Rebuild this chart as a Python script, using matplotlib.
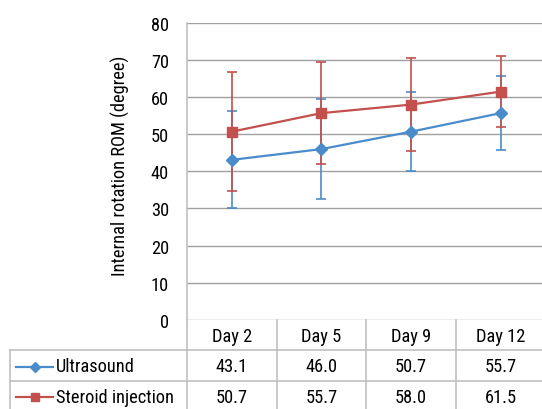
import matplotlib
matplotlib.use("Agg")
import matplotlib.pyplot as plt
from matplotlib.transforms import blended_transform_factory
from matplotlib.lines import Line2D

plt.rcParams['font.family'] = ['Roboto Condensed', 'Archivo Narrow', 'DejaVu Sans']

categories = ["Day 2", "Day 5", "Day 9", "Day 12"]
series_names = ["Ultrasound", "Steroid injection"]
ultrasound = [43.1, 46.0, 50.7, 55.7]
steroid = [50.7, 55.7, 58.0, 61.5]
ultrasound_sd = [13.1, 13.5, 10.6, 9.9]
steroid_sd = [16.1, 13.7, 12.6, 9.6]
y_ticks = [0, 10, 20, 30, 40, 50, 60, 70, 80]
y_label = "Internal rotation ROM (degree)"

blue = "#4A8CCB"
red = "#C4504D"
grid_c = "#A0A0A0"
border_c = "#C0C0C0"
W, H = 542, 410
fs = 13.2

fig = plt.figure(figsize=(W / 100, H / 100), dpi=100)
ax_left, ax_right, ax_top, ax_bot = 187, 545.5, 24, 320.7
ax = fig.add_axes([ax_left / W, 1 - ax_bot / H, (ax_right - ax_left) / W, (ax_bot - ax_top) / H])

x = list(range(len(categories)))
ax.errorbar(x, ultrasound, yerr=ultrasound_sd, fmt='none', ecolor=blue, elinewidth=1.2,
            capsize=3.5, capthick=1.2, zorder=3)
ax.errorbar(x, steroid, yerr=steroid_sd, fmt='none', ecolor=red, elinewidth=1.2,
            capsize=3.5, capthick=1.2, zorder=4)
ax.plot(x, ultrasound, color=blue, lw=1.6, marker='D', ms=6.5, zorder=5)
ax.plot(x, steroid, color=red, lw=1.6, marker='s', ms=6.5, zorder=6)

ax.set_xlim(-0.5, len(categories) - 0.5)
ax.set_ylim(0, 80)
ax.set_yticks(y_ticks)
ax.set_xticks([])
ax.tick_params(axis='y', length=0, pad=13, labelsize=fs)
ax.grid(axis='y', color=grid_c, lw=1)
ax.set_axisbelow(True)
for s in ['top', 'right', 'bottom']:
    ax.spines[s].set_visible(False)
ax.spines['left'].set_color(border_c)
ax.spines['left'].set_linewidth(1.2)

fig.text(120 / W, 1 - 166 / H, y_label, rotation=90, ha='center', va='center', fontsize=fs)

# overlay for table in pixel coords
tab = fig.add_axes([0, 0, 1, 1], facecolor='none')
tab.set_xlim(0, W)
tab.set_ylim(H, 0)
tab.axis('off')
tr = blended_transform_factory(ax.transData, tab.transData)

row_edges = [320.7, 351.3, 381.7, 412.0]
tbl_left = 10
for i in range(len(categories) + 1):
    tab.add_line(Line2D([i - 0.5, i - 0.5], [row_edges[0], row_edges[-1]], transform=tr,
                        color=border_c, lw=1.2, clip_on=False))
tab.add_line(Line2D([tbl_left, tbl_left], [row_edges[1], row_edges[-1]], color=border_c, lw=1.2))
for y in row_edges[1:]:
    tab.add_line(Line2D([tbl_left, W + 5], [y, y], color=border_c, lw=1.2))

for i, c in enumerate(categories):
    tab.text(i, (row_edges[0] + row_edges[1]) / 2 + 1, c, transform=tr, ha='center', va='center', fontsize=fs)

rows = [(series_names[0], ultrasound, blue, 'D'), (series_names[1], steroid, red, 's')]
for r, (name, vals, col, mk) in enumerate(rows):
    yc = (row_edges[r + 1] + row_edges[r + 2]) / 2 + 1
    tab.add_line(Line2D([16, 53], [yc, yc], color=col, lw=1.6))
    tab.add_line(Line2D([34.5], [yc], color=col, marker=mk, ms=6 if mk == 's' else 5.5, lw=0))
    tab.text(56, yc, name, ha='left', va='center', fontsize=fs)
    for i, v in enumerate(vals):
        tab.text(i, yc, f"{v:.1f}", transform=tr, ha='center', va='center', fontsize=fs)

fig.savefig("out.png", dpi=100)
